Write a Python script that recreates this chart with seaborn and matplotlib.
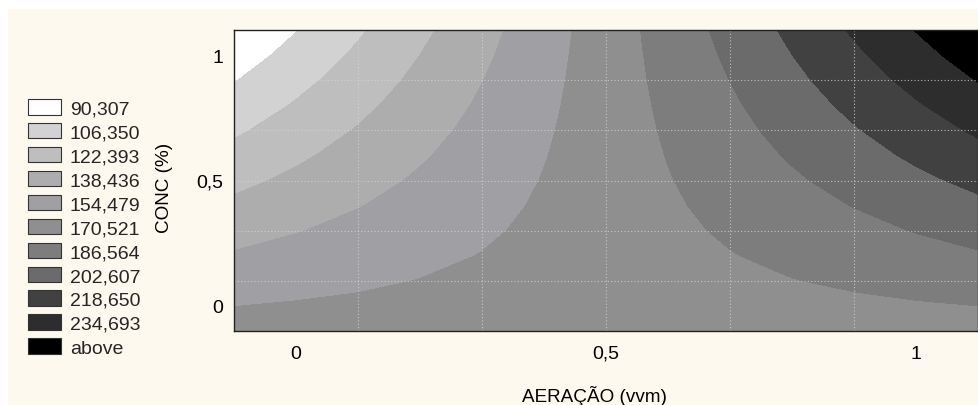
"""Contour plot of the response surface: AERAÇÃO (vvm) x CONC (%)."""

import matplotlib
matplotlib.use('Agg')
import matplotlib.pyplot as plt
import numpy as np
import seaborn as sns
from matplotlib.patches import Patch, Rectangle
from matplotlib.ticker import FixedLocator, MultipleLocator

# grid (x = aeração, y = conc), z = response
AERACAO = [-0.1, 0.0, 0.1, 0.2, 0.3, 0.4, 0.5, 0.6, 0.7, 0.8, 0.9, 1.0, 1.1]
CONC = [-0.1, 0.0, 0.1, 0.2, 0.3, 0.4, 0.5, 0.6, 0.7, 0.8, 0.9, 1.0, 1.1]
# one row per CONC value, one column per AERACAO value
RESPOSTA = [
    [161.5, 161.7, 161.8, 162.0, 162.1, 162.3, 162.4, 162.6, 162.7, 162.9, 163.0, 163.2, 163.3],
    [154.3, 155.7, 157.0, 158.4, 159.7, 161.1, 162.4, 163.8, 165.1, 166.5, 167.8, 169.2, 170.5],
    [147.1, 149.7, 152.2, 154.8, 157.3, 159.9, 162.4, 165.0, 167.5, 170.1, 172.6, 175.2, 177.7],
    [139.9, 143.7, 147.4, 151.2, 154.9, 158.7, 162.4, 166.2, 169.9, 173.7, 177.4, 181.2, 184.9],
    [132.7, 137.7, 142.6, 147.6, 152.5, 157.5, 162.4, 167.4, 172.3, 177.3, 182.2, 187.2, 192.1],
    [125.5, 131.7, 137.8, 144.0, 150.1, 156.3, 162.4, 168.6, 174.7, 180.9, 187.0, 193.2, 199.3],
    [118.3, 125.7, 133.0, 140.4, 147.7, 155.1, 162.4, 169.8, 177.1, 184.5, 191.8, 199.2, 206.5],
    [111.1, 119.7, 128.2, 136.8, 145.3, 153.9, 162.4, 171.0, 179.5, 188.1, 196.6, 205.2, 213.7],
    [103.9, 113.7, 123.4, 133.2, 142.9, 152.7, 162.4, 172.2, 181.9, 191.7, 201.4, 211.2, 220.9],
    [96.7, 107.7, 118.6, 129.6, 140.5, 151.5, 162.4, 173.4, 184.3, 195.3, 206.2, 217.2, 228.1],
    [89.5, 101.7, 113.8, 126.0, 138.1, 150.3, 162.4, 174.6, 186.7, 198.9, 211.0, 223.2, 235.3],
    [82.3, 95.7, 109.0, 122.4, 135.7, 149.1, 162.4, 175.8, 189.1, 202.5, 215.8, 229.2, 242.5],
    [75.1, 89.7, 104.2, 118.8, 133.3, 147.9, 162.4, 177.0, 191.5, 206.1, 220.6, 235.2, 249.7],
]

LEVELS = [90.307, 106.350, 122.393, 138.436, 154.479, 170.521,
          186.564, 202.607, 218.650, 234.693]
LEGEND_LABELS = ['90,307', '106,350', '122,393', '138,436', '154,479', '170,521',
                 '186,564', '202,607', '218,650', '234,693', 'above']
X_TICKS = [0, 0.5, 1]
X_TICKLABELS = ['0', '0,5', '1']
Y_TICKS = [0, 0.5, 1]
Y_TICKLABELS = ['0', '0,5', '1']

# below first level -> white ... above last level -> black
_FILL_COLORS = ['#ffffff', '#d2d2d2', '#bebebe', '#adadad', '#a0a0a4', '#8f8f8f',
                '#7d7d7d', '#6b6b6b', '#414141', '#2d2d2d', '#000000']
_PANEL = '#fef9ee'
_GRID_POS = [0.1, 0.3, 0.5, 0.7, 0.9]

sns.set_theme(style='white')
plt.rcParams['font.family'] = ['Liberation Sans', 'DejaVu Sans']

fig = plt.figure(figsize=(9.79, 4.06), dpi=100)
fig.patch.set_facecolor('white')
fig.add_artist(Rectangle((8 / 979, 0), 1, 396 / 406, transform=fig.transFigure,
                         facecolor=_PANEL, edgecolor='none', zorder=-5))

ax = fig.add_axes([234 / 979, 74 / 406, 744 / 979, 301 / 406])

ax.contourf(AERACAO, CONC, np.array(RESPOSTA), levels=LEVELS,
            colors=_FILL_COLORS, extend='both', antialiased=False)

for g in _GRID_POS:
    ax.axvline(g, color='#d6d6d6', linestyle=(0, (1, 2)), linewidth=0.8, alpha=0.8)
    ax.axhline(g, color='#d6d6d6', linestyle=(0, (1, 2)), linewidth=0.8, alpha=0.8)

ax.set_xlim(-0.1, 1.1)
ax.set_ylim(-0.1, 1.1)
ax.xaxis.set_major_locator(FixedLocator(X_TICKS))
ax.yaxis.set_major_locator(FixedLocator(Y_TICKS))
ax.set_xticklabels(X_TICKLABELS)
ax.set_yticklabels(Y_TICKLABELS)
ax.xaxis.set_minor_locator(MultipleLocator(0.05))
ax.yaxis.set_minor_locator(MultipleLocator(0.05))
ax.tick_params(which='both', direction='in', top=True, right=True,
               color='#222222', width=0.8, labelsize=14, labelcolor='black')
ax.tick_params(which='major', length=3.5)
ax.tick_params(which='minor', length=2.5)
ax.tick_params(axis='x', pad=10)
ax.tick_params(axis='y', pad=8)
for sp in ax.spines.values():
    sp.set_color('#222222')
    sp.set_linewidth(1.0)

ax.set_xlabel('AERAÇÃO (vvm)', fontsize=13.6, color='black')
ax.xaxis.set_label_coords(0.484, -0.18)
ax.set_ylabel('CONC (%)', fontsize=13.6, color='black')
ax.yaxis.set_label_coords(-0.082, 0.478)

handles = [Patch(facecolor=c, edgecolor='#333333', linewidth=0.8) for c in _FILL_COLORS]
fig.legend(handles, LEGEND_LABELS, loc='upper left',
           bbox_to_anchor=(28 / 979, 1 - 100 / 406), bbox_transform=fig.transFigure,
           frameon=False, fontsize=14, borderpad=0, borderaxespad=0,
           handlelength=1.7, handleheight=0.85, handletextpad=0.45,
           labelspacing=0.28)

fig.savefig('out.png', dpi=100)
